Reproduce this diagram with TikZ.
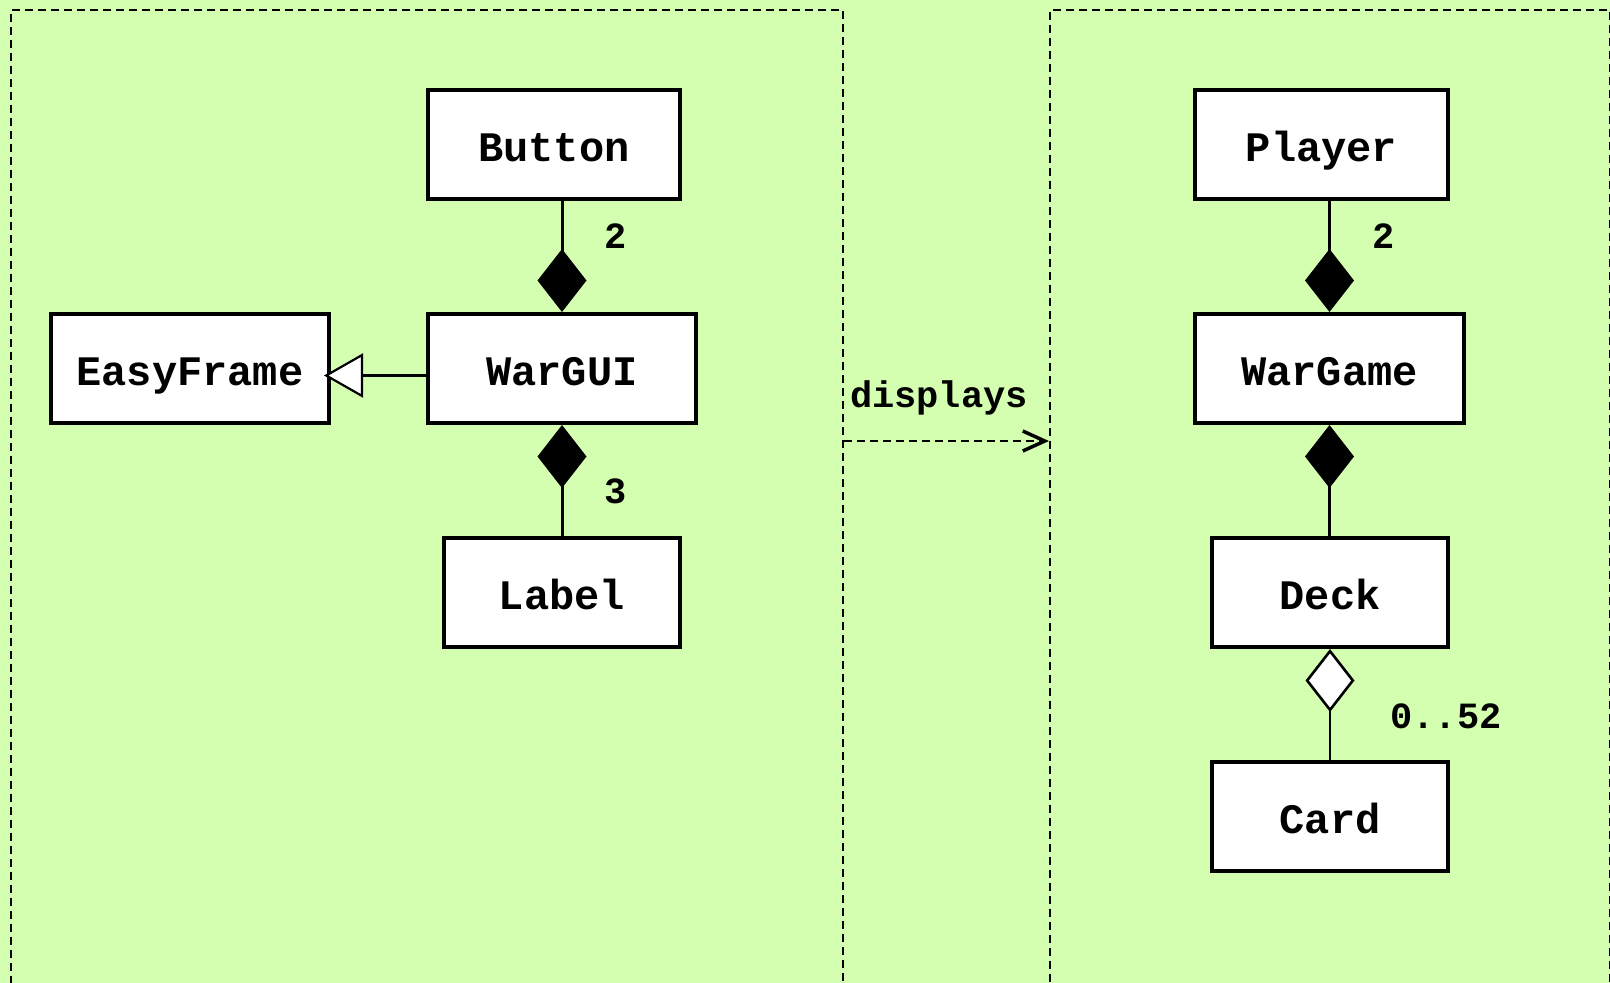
\documentclass[tikz,border=0pt]{standalone}
\usepackage{fontspec}
\setmonofont{Liberation Mono}
\usetikzlibrary{arrows.meta}
\definecolor{pkggreen}{RGB}{212,255,176}

\tikzset{
  umlclass/.style={draw, line width=4pt, fill=white, minimum height=109pt, inner sep=0pt,
    text height=34pt, text depth=0pt,
    font=\ttfamily\bfseries\fontsize{42}{48}\selectfont},
  pkgframe/.style={draw, dash pattern=on 8pt off 5pt, line width=2.2pt},
  mult/.style={inner sep=0pt, font=\ttfamily\bfseries\fontsize{37}{44}\selectfont},
  composes/.style={line width=3pt, {Diamond[length=63pt,width=49pt,fill=black]}-},
  aggregates/.style={line width=2.6pt, {Diamond[open,length=63pt,width=49pt,fill=white]}-},
  inherits/.style={line width=2.2pt, -{Triangle[open,length=39pt,width=44pt,fill=white]}},
  dependson/.style={line width=2.4pt, dash pattern=on 8pt off 5pt,
    -{Straight Barb[length=22pt,width=20pt,line width=3.5pt]}}
}

\begin{document}
\begin{tikzpicture}[x=1pt,y=-1pt]
		%%%%% BACKGROUND %%%%%
		\useasboundingbox (0,0) rectangle (1610,983);
		\clip (0,0) rectangle (1610,983);
		\fill[pkggreen] (0,0) rectangle (1610,983);
		
		% the two packages
		\node[pkgframe, anchor=north west, minimum width=832pt, minimum height=1010pt] (guipkg) at (10,8.5) {};
		\node[pkgframe, anchor=north west, minimum width=560pt, minimum height=1010pt] (gamepkg) at (1049,8.5) {};
		
		%%%%% GUI SIDE %%%%%
		\node[umlclass, minimum width=252pt] (button) at (554,144.5) {Button};
		\node[umlclass, minimum width=268pt] (wargui) at (562,368.5) {WarGUI};
		\node[umlclass, minimum width=278pt] (easyframe) at (190,368.5) {EasyFrame};
		\node[umlclass, minimum width=236pt] (guilabel) at (562,592.5) {Label};
		
		\draw[composes] (wargui.north) -- (wargui.north |- button.south);
		\draw[composes] (wargui.south) -- (wargui.south |- guilabel.north);
		\draw[inherits] ([yshift=-7pt]wargui.west) -- ([xshift=-7pt,yshift=-7pt]easyframe.east);
		
		\node[mult] (nbuttons) at (616,236) {2};
		\node[mult] (nlabels) at (616,491) {3};
		
		%%%%% GAME SIDE %%%%%
		\node[umlclass, minimum width=253pt] (player) at (1321.5,144.5) {Player};
		\node[umlclass, minimum width=269pt] (wargame) at (1329.5,368.5) {WarGame};
		\node[umlclass, minimum width=236pt] (deck) at (1330,592.5) {Deck};
		\node[umlclass, minimum width=236pt] (card) at (1330,816.5) {Card};
		
		\draw[composes] (wargame.north) -- (wargame.north |- player.south);
		\draw[composes] (wargame.south) -- (wargame.south |- deck.north);
		\draw[aggregates] (deck.south) -- (deck.south |- card.north);
		
		\node[mult] (nplayers) at (1384,236) {2};
		\node[mult] (ncards) at (1446,716) {0..52};
		
		%%%%% DEPENDENCY %%%%%
		\coordinate (deprow) at (0,441);
		\draw[dependson] (guipkg.east |- deprow) -- (gamepkg.west |- deprow);
		\node[mult] (displabel) at (939,398) {displays};
		
		%%%%% END %%%%%
	\end{tikzpicture}
\end{document}
